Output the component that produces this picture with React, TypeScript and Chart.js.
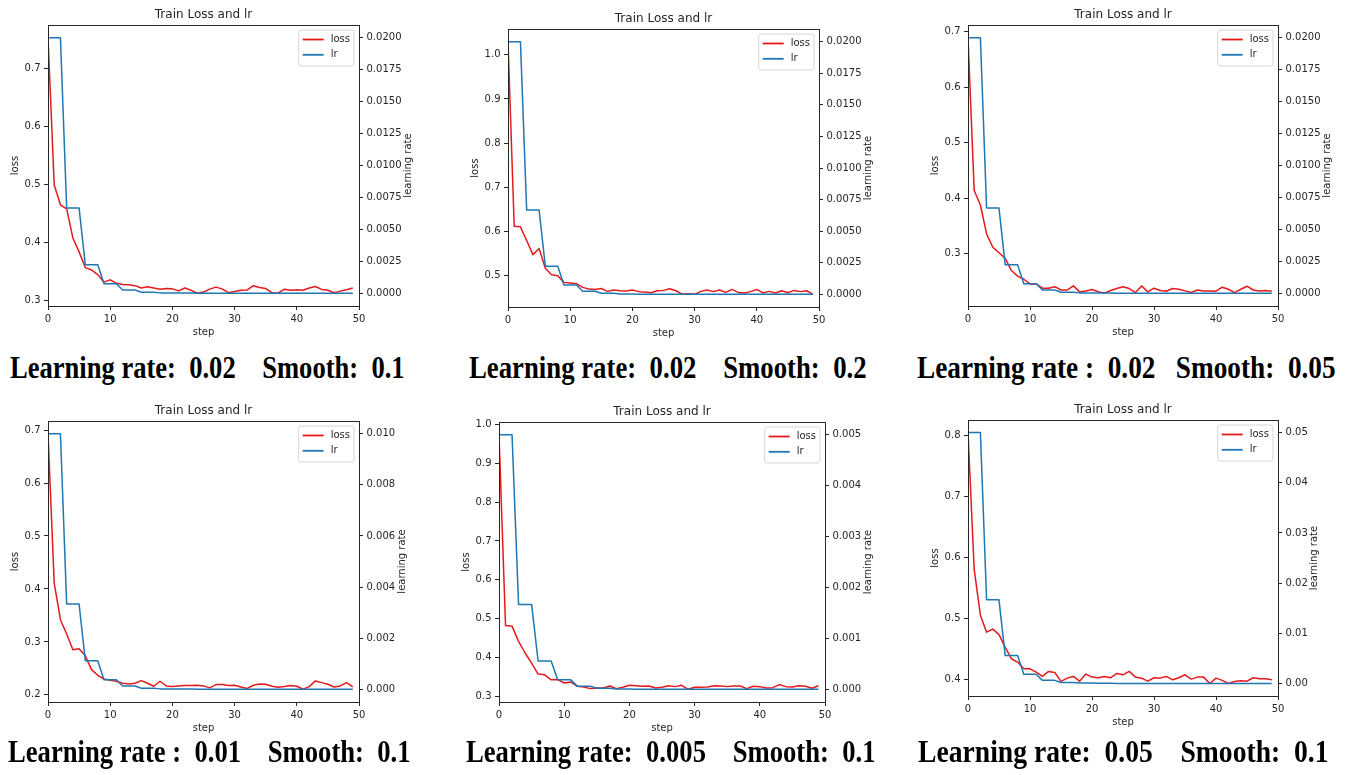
import React, { useEffect, useLayoutEffect, useRef } from 'react';
import { Chart, registerables } from 'chart.js';

Chart.register(...registerables);

// ---------------- data ----------------
const steps = Array.from({ length: 50 }, (_, i) => i);
const xTicks = [0, 10, 20, 30, 40, 50];

const loss1 = [0.752, 0.499, 0.465, 0.458, 0.408, 0.384, 0.357, 0.353, 0.345, 0.332,
  0.336, 0.330, 0.328, 0.3275, 0.326, 0.322, 0.324, 0.322, 0.320, 0.321,
  0.3205, 0.317, 0.322, 0.318, 0.313, 0.315, 0.320, 0.3235, 0.3205, 0.314,
  0.316, 0.318, 0.3185, 0.326, 0.323, 0.321, 0.314, 0.313, 0.320, 0.318,
  0.319, 0.318, 0.322, 0.3246, 0.3195, 0.318, 0.3138, 0.3166, 0.319, 0.322];
const loss2 = [1.030, 0.6115, 0.610, 0.579, 0.547, 0.561, 0.516, 0.5015, 0.499, 0.484,
  0.4825, 0.481, 0.4727, 0.469, 0.468, 0.470, 0.4636, 0.4666, 0.465, 0.4643,
  0.4666, 0.463, 0.462, 0.4605, 0.465, 0.4658, 0.4696, 0.465, 0.4575, 0.4583,
  0.4568, 0.4636, 0.4666, 0.463, 0.4666, 0.4613, 0.468, 0.4613, 0.460, 0.463,
  0.468, 0.460, 0.4636, 0.460, 0.465, 0.4605, 0.4658, 0.463, 0.465, 0.4575];
const loss3 = [0.689, 0.414, 0.388, 0.336, 0.312, 0.302, 0.292, 0.270, 0.260, 0.2544,
  0.246, 0.246, 0.2382, 0.2382, 0.241, 0.235, 0.235, 0.2424, 0.2316, 0.2334,
  0.2358, 0.232, 0.2292, 0.234, 0.2376, 0.241, 0.2376, 0.2304, 0.2424, 0.2316,
  0.2382, 0.234, 0.2328, 0.2376, 0.2364, 0.2334, 0.2304, 0.235, 0.2334, 0.2334,
  0.2328, 0.240, 0.2364, 0.2304, 0.2364, 0.2418, 0.235, 0.2334, 0.234, 0.2328];
const loss4 = [0.693, 0.411, 0.342, 0.315, 0.2854, 0.2873, 0.274, 0.2477, 0.237, 0.230,
  0.2276, 0.2258, 0.222, 0.2207, 0.222, 0.227, 0.222, 0.2163, 0.2258, 0.217,
  0.2157, 0.217, 0.2176, 0.2176, 0.2182, 0.217, 0.2132, 0.2195, 0.2195, 0.2176,
  0.2182, 0.215, 0.212, 0.2182, 0.2207, 0.220, 0.2163, 0.2144, 0.2157, 0.2176,
  0.2163, 0.2107, 0.2157, 0.2264, 0.2232, 0.220, 0.215, 0.217, 0.2232, 0.215];
const loss5 = [0.973, 0.483, 0.481, 0.442, 0.412, 0.386, 0.358, 0.356, 0.343, 0.3436,
  0.335, 0.3376, 0.3265, 0.3248, 0.3205, 0.3222, 0.3222, 0.3273, 0.3205, 0.324,
  0.329, 0.328, 0.3265, 0.3273, 0.3222, 0.324, 0.328, 0.3256, 0.329, 0.3188,
  0.324, 0.324, 0.3248, 0.328, 0.3273, 0.3256, 0.3273, 0.3273, 0.3205, 0.3265,
  0.3256, 0.3222, 0.323, 0.3308, 0.3256, 0.3248, 0.328, 0.3265, 0.3214, 0.328];
const loss6 = [0.805, 0.581, 0.5056, 0.478, 0.483, 0.474, 0.453, 0.4345, 0.429, 0.418,
  0.418, 0.4126, 0.4055, 0.4137, 0.412, 0.3973, 0.4027, 0.4055, 0.3978, 0.4093,
  0.4044, 0.4033, 0.4055, 0.4033, 0.4104, 0.4082, 0.4137, 0.4044, 0.4027, 0.3978,
  0.4033, 0.4027, 0.4055, 0.400, 0.4033, 0.4082, 0.4011, 0.4044, 0.4044, 0.394,
  0.4027, 0.399, 0.394, 0.3973, 0.3984, 0.3978, 0.4033, 0.4016, 0.4016, 0.400];

const lr002 = [0.02, 0.02, 0.02, 0.006667, 0.006667, 0.006667, 0.002222, 0.002222, 0.002222,
  0.000741, 0.000741, 0.000741, 0.000247, 0.000247, 0.000247, 0.0000823, 0.0000823, 0.0000823,
  0.0000274, 0.0000274, 0.0000274, 0.00000914, 0.00000914, 0.00000914, 0.00000305, 0.00000305, 0.00000305,
  0.00000102, 0.00000102, 0.00000102, 3.4e-7, 3.4e-7, 3.4e-7, 1.1e-7, 1.1e-7, 1.1e-7,
  3.8e-8, 3.8e-8, 3.8e-8, 1.3e-8, 1.3e-8, 1.3e-8, 4.2e-9, 4.2e-9, 4.2e-9, 1.4e-9, 1.4e-9, 1.4e-9,
  4.7e-10, 4.7e-10];
const lr001 = [0.01, 0.01, 0.01, 0.003333, 0.003333, 0.003333, 0.001111, 0.001111, 0.001111,
  0.00037, 0.00037, 0.00037, 0.000123, 0.000123, 0.000123, 0.0000412, 0.0000412, 0.0000412,
  0.0000137, 0.0000137, 0.0000137, 0.00000457, 0.00000457, 0.00000457, 0.00000152, 0.00000152, 0.00000152,
  5.1e-7, 5.1e-7, 5.1e-7, 1.7e-7, 1.7e-7, 1.7e-7, 5.6e-8, 5.6e-8, 5.6e-8,
  1.9e-8, 1.9e-8, 1.9e-8, 6.3e-9, 6.3e-9, 6.3e-9, 2.1e-9, 2.1e-9, 2.1e-9, 7e-10, 7e-10, 7e-10,
  2.3e-10, 2.3e-10];
const lr0005 = [0.005, 0.005, 0.005, 0.001667, 0.001667, 0.001667, 0.000556, 0.000556, 0.000556,
  0.000185, 0.000185, 0.000185, 0.0000617, 0.0000617, 0.0000617, 0.0000206, 0.0000206, 0.0000206,
  0.00000686, 0.00000686, 0.00000686, 0.00000229, 0.00000229, 0.00000229, 7.6e-7, 7.6e-7, 7.6e-7,
  2.5e-7, 2.5e-7, 2.5e-7, 8.5e-8, 8.5e-8, 8.5e-8, 2.8e-8, 2.8e-8, 2.8e-8,
  9.4e-9, 9.4e-9, 9.4e-9, 3.1e-9, 3.1e-9, 3.1e-9, 1e-9, 1e-9, 1e-9, 3.5e-10, 3.5e-10, 3.5e-10,
  1.2e-10, 1.2e-10];
const lr005 = [0.05, 0.05, 0.05, 0.016667, 0.016667, 0.016667, 0.005556, 0.005556, 0.005556,
  0.001852, 0.001852, 0.001852, 0.000617, 0.000617, 0.000617, 0.000206, 0.000206, 0.000206,
  0.0000686, 0.0000686, 0.0000686, 0.0000229, 0.0000229, 0.0000229, 0.0000076, 0.0000076, 0.0000076,
  0.0000025, 0.0000025, 0.0000025, 8.5e-7, 8.5e-7, 8.5e-7, 2.8e-7, 2.8e-7, 2.8e-7,
  9.4e-8, 9.4e-8, 9.4e-8, 3.1e-8, 3.1e-8, 3.1e-8, 1e-8, 1e-8, 1e-8, 3.5e-9, 3.5e-9, 3.5e-9,
  1.2e-9, 1.2e-9];

const lossTicks1 = [0.3, 0.4, 0.5, 0.6, 0.7];
const lossTicks2 = [0.5, 0.6, 0.7, 0.8, 0.9, 1.0];
const lossTicks3 = [0.3, 0.4, 0.5, 0.6, 0.7];
const lossTicks4 = [0.2, 0.3, 0.4, 0.5, 0.6, 0.7];
const lossTicks5 = [0.3, 0.4, 0.5, 0.6, 0.7, 0.8, 0.9, 1.0];
const lossTicks6 = [0.4, 0.5, 0.6, 0.7, 0.8];

const lrTicks002 = [0, 0.0025, 0.005, 0.0075, 0.01, 0.0125, 0.015, 0.0175, 0.02];
const lrTicks001 = [0, 0.002, 0.004, 0.006, 0.008, 0.01];
const lrTicks0005 = [0, 0.001, 0.002, 0.003, 0.004, 0.005];
const lrTicks005 = [0, 0.01, 0.02, 0.03, 0.04, 0.05];

const captions = [
  'Learning rate:  0.02    Smooth:  0.1',
  'Learning rate:  0.02    Smooth:  0.2',
  'Learning rate :  0.02   Smooth:  0.05',
  'Learning rate :  0.01    Smooth:  0.1',
  'Learning rate:  0.005    Smooth:  0.1',
  'Learning rate:  0.05    Smooth:  0.1',
];

const TITLE = 'Train Loss and lr';
const X_LABEL = 'step';
const Y_LABEL = 'loss';
const Y2_LABEL = 'learning rate';

// ---------------- styling / layout ----------------
const RED = '#e41a1c';
const BLUE = '#1f77b4';
const AXIS = '#262626';
const TEXT = '#262626';
const FONT = '"DejaVu Sans", Verdana, sans-serif';

type Panel = {
  loss: number[]; lr: number[];
  lossTicks: number[]; lrTicks: number[];
  lossDec: number; lrDec: number;
  caption: string;
};

const panels: Panel[] = [
  { loss: loss1, lr: lr002, lossTicks: lossTicks1, lrTicks: lrTicks002, lossDec: 1, lrDec: 4, caption: captions[0] },
  { loss: loss2, lr: lr002, lossTicks: lossTicks2, lrTicks: lrTicks002, lossDec: 1, lrDec: 4, caption: captions[1] },
  { loss: loss3, lr: lr002, lossTicks: lossTicks3, lrTicks: lrTicks002, lossDec: 1, lrDec: 4, caption: captions[2] },
  { loss: loss4, lr: lr001, lossTicks: lossTicks4, lrTicks: lrTicks001, lossDec: 1, lrDec: 3, caption: captions[3] },
  { loss: loss5, lr: lr0005, lossTicks: lossTicks5, lrTicks: lrTicks0005, lossDec: 1, lrDec: 3, caption: captions[4] },
  { loss: loss6, lr: lr005, lossTicks: lossTicks6, lrTicks: lrTicks005, lossDec: 1, lrDec: 2, caption: captions[5] },
];

type Layout = { cx: number; cy: number; cw: number; ch: number; L: number; T: number; R: number; B: number; capX: number; capW: number; capBase: number };

const layouts: Layout[] = [
  { cx: 0, cy: 0, cw: 450, ch: 345, L: 48, T: 25, R: 359, B: 306, capX: 10, capW: 395, capBase: 378 },
  { cx: 450, cy: 0, cw: 450, ch: 345, L: 508, T: 29, R: 819, B: 307, capX: 469, capW: 398, capBase: 378 },
  { cx: 900, cy: 0, cw: 449, ch: 345, L: 968, T: 25, R: 1278, B: 306, capX: 917, capW: 419, capBase: 378 },
  { cx: 0, cy: 395, cw: 450, ch: 345, L: 48, T: 421, R: 359, B: 702, capX: 8, capW: 403, capBase: 762 },
  { cx: 450, cy: 395, cw: 450, ch: 345, L: 499, T: 422, R: 825, B: 702, capX: 466, capW: 410, capBase: 762 },
  { cx: 900, cy: 395, cw: 449, ch: 345, L: 968, T: 420, R: 1278, B: 696, capX: 918, capW: 411, capBase: 762 },
];

function bounds(values: number[]) {
  const mn = Math.min(...values);
  const mx = Math.max(...values);
  const pad = (mx - mn) * 0.05;
  return { min: mn - pad, max: mx + pad };
}

function decorPlugin(p: Panel) {
  return {
    id: 'decor',
    afterDraw(chart: any) {
      const { ctx, chartArea: a } = chart;
      ctx.save();
      // frame (spines)
      ctx.strokeStyle = AXIS;
      ctx.lineWidth = 1;
      ctx.strokeRect(a.left + 0.5, a.top + 0.5, a.right - a.left, a.bottom - a.top);

      // title
      ctx.fillStyle = TEXT;
      ctx.font = `12px ${FONT}`;
      ctx.textAlign = 'center';
      ctx.textBaseline = 'alphabetic';
      ctx.fillText(TITLE, (a.left + a.right) / 2, a.top - 7);

      // x label
      ctx.font = `10px ${FONT}`;
      ctx.textBaseline = 'middle';
      ctx.fillText(X_LABEL, (a.left + a.right) / 2, a.bottom + 26);

      // y labels
      const wL = Math.max(...p.lossTicks.map((v) => ctx.measureText(v.toFixed(p.lossDec)).width));
      const wR = Math.max(...p.lrTicks.map((v) => ctx.measureText(v.toFixed(p.lrDec)).width));
      const midY = (a.top + a.bottom) / 2;
      ctx.save();
      ctx.translate(a.left - (wL + 16.8), midY);
      ctx.rotate(-Math.PI / 2);
      ctx.fillText(Y_LABEL, 0, 0);
      ctx.restore();
      ctx.save();
      ctx.translate(a.right + wR + 14.5, midY);
      ctx.rotate(-Math.PI / 2);
      ctx.fillText(Y2_LABEL, 0, 0);
      ctx.restore();

      // legend
      const ds = chart.data.datasets;
      const textW = Math.max(...ds.map((d: any) => ctx.measureText(d.label).width));
      const bw = 4 + 20 + 8 + textW + 4;
      const bh = 36;
      const bx = a.right - 5 - bw;
      const by = a.top + 5;
      ctx.beginPath();
      const r = 2.5;
      ctx.moveTo(bx + r, by);
      ctx.lineTo(bx + bw - r, by);
      ctx.quadraticCurveTo(bx + bw, by, bx + bw, by + r);
      ctx.lineTo(bx + bw, by + bh - r);
      ctx.quadraticCurveTo(bx + bw, by + bh, bx + bw - r, by + bh);
      ctx.lineTo(bx + r, by + bh);
      ctx.quadraticCurveTo(bx, by + bh, bx, by + bh - r);
      ctx.lineTo(bx, by + r);
      ctx.quadraticCurveTo(bx, by, bx + r, by);
      ctx.closePath();
      ctx.fillStyle = 'rgba(255,255,255,0.85)';
      ctx.fill();
      ctx.strokeStyle = '#d6d6d6';
      ctx.lineWidth = 1;
      ctx.stroke();
      ds.forEach((d: any, i: number) => {
        const y = by + 9.5 + i * 15.3;
        ctx.strokeStyle = d.borderColor;
        ctx.lineWidth = 1.8;
        ctx.beginPath();
        ctx.moveTo(bx + 4, y);
        ctx.lineTo(bx + 25, y);
        ctx.stroke();
        ctx.fillStyle = TEXT;
        ctx.textAlign = 'left';
        ctx.textBaseline = 'middle';
        ctx.fillText(d.label, bx + 32, y);
      });
      ctx.restore();
    },
  };
}

function makeConfig(p: Panel, lay: Layout): any {
  const yb = bounds(p.loss);
  const lrMax = Math.max(...p.lr);
  const lrMin = Math.min(...p.lr);
  const lrPad = (lrMax - lrMin) * 0.05;
  const tickFont = { family: FONT, size: 10 };
  const grid = { display: true, drawOnChartArea: false, drawTicks: true, tickLength: 4, color: AXIS, lineWidth: 1 };
  return {
    type: 'line',
    data: {
      datasets: [
        {
          label: 'loss',
          data: steps.map((s, i) => ({ x: s, y: p.loss[i] })),
          borderColor: RED, backgroundColor: RED, borderWidth: 1.5,
          pointRadius: 0, tension: 0, yAxisID: 'y', order: 1,
          borderJoinStyle: 'round',
        },
        {
          label: 'lr',
          data: steps.map((s, i) => ({ x: s, y: p.lr[i] })),
          borderColor: BLUE, backgroundColor: BLUE, borderWidth: 1.5,
          pointRadius: 0, tension: 0, yAxisID: 'y1', order: 0,
          borderJoinStyle: 'round',
        },
      ],
    },
    options: {
      animation: false,
      responsive: false,
      maintainAspectRatio: false,
      events: [],
      layout: { padding: { top: lay.T - lay.cy, left: 0, right: 0, bottom: 0 } },
      plugins: { legend: { display: false }, title: { display: false }, tooltip: { enabled: false } },
      scales: {
        x: {
          type: 'linear', min: 0, max: 50, bounds: 'data',
          afterBuildTicks: (s: any) => { s.ticks = xTicks.map((v) => ({ value: v })); },
          afterFit: (s: any) => { s.height = lay.cy + lay.ch - lay.B; },
          grid, border: { display: false },
          ticks: { font: tickFont, color: TEXT, padding: 3, autoSkip: false, maxRotation: 0, minRotation: 0, callback: (v: any) => Number(v).toFixed(0) },
        },
        y: {
          type: 'linear', position: 'left', min: yb.min, max: yb.max, bounds: 'data',
          afterBuildTicks: (s: any) => { s.ticks = p.lossTicks.map((v) => ({ value: v })); },
          afterFit: (s: any) => { s.width = lay.L - lay.cx; },
          grid, border: { display: false },
          ticks: { font: tickFont, color: TEXT, padding: 3.5, autoSkip: false, callback: (v: any) => Number(v).toFixed(p.lossDec) },
        },
        y1: {
          type: 'linear', position: 'right', min: lrMin - lrPad, max: lrMax + lrPad, bounds: 'data',
          afterBuildTicks: (s: any) => { s.ticks = p.lrTicks.map((v) => ({ value: v })); },
          afterFit: (s: any) => { s.width = lay.cx + lay.cw - lay.R; },
          grid, border: { display: false },
          ticks: { font: tickFont, color: TEXT, padding: 3.5, autoSkip: false, callback: (v: any) => Number(v).toFixed(p.lrDec) },
        },
      },
    },
    plugins: [decorPlugin(p)],
  };
}

function PanelChart({ p, lay }: { p: Panel; lay: Layout }) {
  const ref = useRef<HTMLCanvasElement>(null);
  useEffect(() => {
    if (!ref.current) return;
    const chart = new Chart(ref.current, makeConfig(p, lay));
    return () => chart.destroy();
  }, [p, lay]);
  return (
    <canvas
      ref={ref}
      width={lay.cw}
      height={lay.ch}
      style={{ position: 'absolute', left: lay.cx, top: lay.cy, width: lay.cw, height: lay.ch }}
    />
  );
}

function Caption({ text, lay }: { text: string; lay: Layout }) {
  const ref = useRef<HTMLSpanElement>(null);
  useLayoutEffect(() => {
    const fit = () => {
      const el = ref.current;
      if (!el) return;
      el.style.transform = 'none';
      const nat = el.offsetWidth;
      if (nat > 0) el.style.transform = `scaleX(${lay.capW / nat})`;
    };
    fit();
    const fonts = (document as any).fonts;
    if (fonts && fonts.ready) fonts.ready.then(fit);
  }, [text, lay]);
  return (
    <span
      ref={ref}
      style={{
        position: 'absolute',
        left: lay.capX,
        top: lay.capBase - 26.8,
        fontFamily: '"Liberation Serif", "Times New Roman", serif',
        fontWeight: 'bold',
        fontSize: 32,
        lineHeight: '32px',
        whiteSpace: 'pre',
        transformOrigin: '0 0',
        color: '#000',
      }}
    >
      {text}
    </span>
  );
}

export default function App() {
  return (
    <div style={{ position: 'absolute', left: 0, top: 0, width: 1349, height: 775, background: '#fff', overflow: 'hidden' }}>
      {panels.map((p, i) => (
        <PanelChart key={'c' + i} p={p} lay={layouts[i]} />
      ))}
      {panels.map((p, i) => (
        <Caption key={'t' + i} text={p.caption} lay={layouts[i]} />
      ))}
    </div>
  );
}
